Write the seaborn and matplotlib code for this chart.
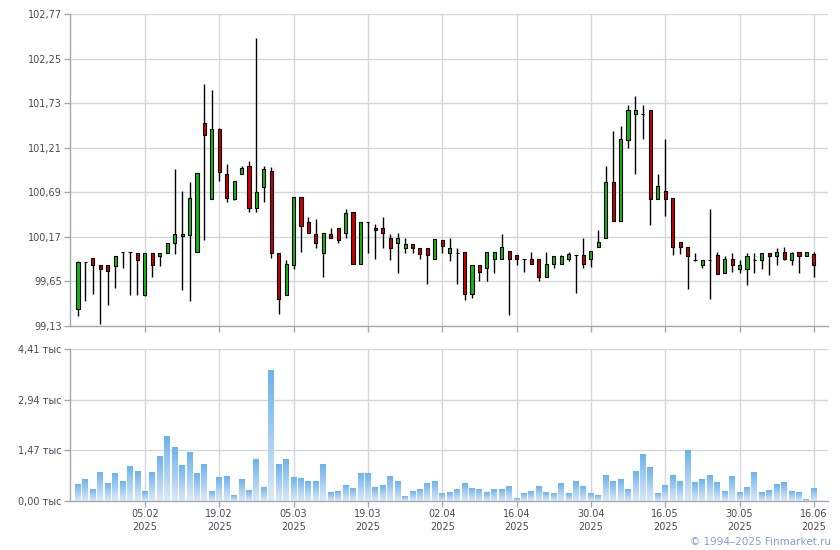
import numpy as np
import pandas as pd
import matplotlib
matplotlib.use("Agg")
import matplotlib.pyplot as plt
import seaborn as sns
from matplotlib.colors import LinearSegmentedColormap

# ---------------- data ----------------
opens = [99.33, 99.88, 99.92, 99.84, 99.84, 99.83, 99.99, 99.99, 99.98, 99.49,
         99.98, 99.95, 99.98, 100.10, 100.18, 100.19, 99.99, 101.50, 100.61, 101.43,
         100.90, 100.61, 100.90, 101.00, 100.51, 100.75, 100.94, 99.98, 99.49, 99.84,
         100.64, 100.34, 100.20, 99.98, 100.20, 100.27, 100.22, 100.46, 99.85, 100.34,
         100.27, 100.27, 100.16, 100.10, 100.04, 100.09, 100.04, 100.04, 99.91, 100.13,
         99.98, 99.98, 99.99, 99.50, 99.84, 99.81, 99.91, 99.91, 100.01, 99.96,
         99.91, 99.91, 99.91, 99.70, 99.85, 99.85, 99.91, 99.96, 99.96, 99.91,
         100.05, 100.16, 100.81, 100.36, 101.30, 101.60, 101.60, 101.65, 100.61, 100.71,
         100.62, 100.11, 100.05, 99.90, 99.84, 99.90, 99.96, 99.75, 99.91, 99.80,
         99.80, 99.90, 99.90, 99.98, 99.95, 99.99, 99.90, 99.99, 99.95, 99.97]
highs = [99.89, 99.88, 99.92, 99.84, 99.84, 99.95, 99.99, 99.99, 99.98, 99.98,
         99.98, 99.98, 100.10, 100.96, 100.71, 100.81, 100.91, 101.95, 101.88, 101.44,
         101.02, 100.82, 101.00, 101.05, 102.49, 101.00, 100.99, 99.98, 99.90, 100.64,
         100.64, 100.40, 100.38, 100.22, 100.27, 100.27, 100.50, 100.46, 100.34, 100.34,
         100.32, 100.40, 100.20, 100.22, 100.16, 100.09, 100.04, 100.04, 100.15, 100.13,
         100.16, 100.04, 99.99, 99.84, 99.84, 99.99, 99.99, 100.20, 100.01, 99.96,
         99.91, 99.99, 99.91, 99.99, 99.95, 99.96, 99.99, 99.96, 100.16, 100.01,
         100.25, 101.00, 101.41, 101.46, 101.71, 101.81, 101.71, 101.65, 100.90, 101.31,
         100.62, 100.11, 100.05, 99.98, 99.90, 100.50, 99.99, 99.95, 99.98, 99.90,
         99.98, 99.98, 99.98, 99.98, 100.04, 100.05, 99.99, 99.99, 99.99, 99.99]
lows = [99.25, 99.42, 99.50, 99.15, 99.38, 99.57, 99.81, 99.49, 99.49, 99.48,
        99.70, 99.83, 99.98, 99.97, 99.55, 99.42, 99.99, 100.13, 100.61, 100.82,
        100.58, 100.60, 100.90, 100.46, 100.46, 100.58, 99.92, 99.27, 99.49, 99.80,
        99.99, 100.22, 100.04, 99.70, 100.16, 100.10, 100.16, 99.85, 99.85, 99.98,
        99.91, 100.04, 99.90, 99.75, 99.98, 99.98, 99.91, 99.62, 99.91, 99.98,
        99.89, 99.62, 99.43, 99.46, 99.65, 99.65, 99.75, 99.91, 99.26, 99.84,
        99.76, 99.85, 99.65, 99.70, 99.81, 99.85, 99.89, 99.52, 99.81, 99.82,
        100.05, 100.16, 100.36, 100.36, 101.21, 100.90, 101.31, 100.31, 100.61, 100.41,
        99.96, 99.97, 99.56, 99.89, 99.81, 99.45, 99.74, 99.75, 99.76, 99.75,
        99.61, 99.75, 99.80, 99.73, 99.84, 99.90, 99.84, 99.75, 99.95, 99.70]
closes = [99.88, 99.88, 99.84, 99.80, 99.77, 99.95, 99.99, 99.99, 99.90, 99.98,
          99.84, 99.98, 100.10, 100.20, 100.20, 100.62, 100.91, 101.36, 101.43, 100.93,
          100.62, 100.82, 100.97, 100.51, 100.69, 100.96, 99.98, 99.44, 99.85, 100.64,
          100.30, 100.22, 100.10, 100.22, 100.16, 100.13, 100.45, 99.85, 100.34, 100.34,
          100.25, 100.22, 100.04, 100.16, 100.09, 100.04, 99.97, 99.96, 100.15, 100.06,
          100.04, 99.98, 99.50, 99.84, 99.76, 99.99, 99.99, 100.05, 99.91, 99.91,
          99.91, 99.85, 99.70, 99.85, 99.95, 99.95, 99.97, 99.96, 99.85, 100.01,
          100.11, 100.81, 100.36, 101.31, 101.65, 101.65, 101.60, 100.61, 100.76, 100.61,
          100.05, 100.05, 99.95, 99.90, 99.90, 99.90, 99.74, 99.91, 99.84, 99.84,
          99.95, 99.90, 99.98, 99.95, 99.99, 99.91, 99.98, 99.95, 99.99, 99.84]
volumes = [0.465, 0.61, 0.32, 0.814, 0.494, 0.785, 0.552, 0.989, 0.843, 0.262,
           0.814, 1.279, 1.861, 1.541, 1.018, 1.396, 0.785, 1.047, 0.262, 0.669,
           0.698, 0.174, 0.611, 0.291, 1.192, 0.378, 3.78, 1.047, 1.192, 0.669,
           0.64, 0.58, 0.552, 1.047, 0.233, 0.262, 0.436, 0.349, 0.785, 0.785,
           0.378, 0.436, 0.698, 0.552, 0.145, 0.262, 0.32, 0.494, 0.552, 0.204,
           0.233, 0.32, 0.494, 0.349, 0.32, 0.233, 0.32, 0.32, 0.407, 0.087,
           0.204, 0.262, 0.407, 0.233, 0.204, 0.494, 0.204, 0.552, 0.407, 0.204,
           0.174, 0.727, 0.552, 0.611, 0.32, 0.843, 1.337, 0.96, 0.204, 0.436,
           0.727, 0.58, 1.454, 0.523, 0.611, 0.727, 0.523, 0.262, 0.698, 0.233,
           0.378, 0.814, 0.233, 0.291, 0.465, 0.523, 0.262, 0.233, 0.058, 0.349]

tick_dates = ["05.02", "19.02", "05.03", "19.03", "02.04", "16.04",
              "30.04", "16.05", "30.05", "16.06"]
tick_year = "2025"
tick_idx = [9, 19, 29, 39, 49, 59, 69, 79, 89, 99]
price_ticks = [99.13, 99.65, 100.17, 100.69, 101.21, 101.73, 102.25, 102.77]
vol_ticks = [0.0, 1.47, 2.94, 4.41]

# ---------------- style ----------------
sns.set_style("white")
plt.rcParams['font.family'] = ['DejaVu Sans']
TXT = '#4a4a58'
GRID = '#d3d7dc'
SPINE = '#a5a9b3'
UP = '#11bb11'
DOWN = '#cc0000'

df = pd.DataFrame({"idx": np.arange(len(opens)), "open": opens, "high": highs,
                   "low": lows, "close": closes, "volume": volumes})

W, H = 840, 550
fig = plt.figure(figsize=(W / 100, H / 100), dpi=100)
ax1 = fig.add_axes([70 / W, 1 - 326 / H, (828 - 70) / W, (326 - 14) / H])
ax2 = fig.add_axes([70 / W, 1 - 501 / H, (828 - 70) / W, (501 - 349) / H])

XL = (-1.08, 100.9)


def style_axis(ax):
    for s in ['top', 'right']:
        ax.spines[s].set_visible(False)
    for s in ['left', 'bottom']:
        ax.spines[s].set_color(SPINE)
        ax.spines[s].set_linewidth(1.0)
    ax.grid(True, color=GRID, linewidth=1.0)
    ax.set_axisbelow(True)
    ax.tick_params(axis='both', which='both', length=4, width=1.0, color=SPINE,
                   labelsize=7, labelcolor=TXT, pad=2)
    ax.tick_params(axis='x', bottom=True)
    ax.tick_params(axis='y', left=True)
    ax.set_xticks(tick_idx)
    ax.set_xlim(*XL)


# ---------------- price (candles) ----------------
style_axis(ax1)
ax1.vlines(df["idx"], df["low"], df["high"], color='black', linewidth=1.0, zorder=2)
up = df["close"] >= df["open"]
body_bottom = np.minimum(df["open"], df["close"])
body_h = np.abs(df["close"] - df["open"])
ax1.bar(df["idx"], body_h, bottom=body_bottom, width=0.42,
        color=np.where(up, UP, DOWN), edgecolor='black', linewidth=0.8, zorder=3)
ax1.set_ylim(price_ticks[0], price_ticks[-1])
ax1.set_yticks(price_ticks)
ax1.set_yticklabels([f"{v:.2f}".replace('.', ',') for v in price_ticks])
ax1.set_xticklabels([])

# ---------------- volume ----------------
sns.barplot(data=df, x="idx", y="volume", ax=ax2, color='#8cc3f2', width=0.8,
            saturation=1, errorbar=None, zorder=2)
style_axis(ax2)
cmap = LinearSegmentedColormap.from_list("vol", ['#dce9f8', '#6cb3ee'])
grad = np.linspace(0, 1, 64).reshape(-1, 1)
for p in list(ax2.patches):
    x0, y0 = p.get_x(), p.get_y()
    w, h = p.get_width(), p.get_height()
    if h <= 0:
        continue
    ax2.imshow(grad, extent=[x0, x0 + w, y0, y0 + h], origin='lower',
               cmap=cmap, vmin=0, vmax=1, aspect='auto', zorder=2.5,
               interpolation='bilinear')
    p.set_visible(False)
ax2.set_xlim(*XL)
ax2.set_ylim(vol_ticks[0], vol_ticks[-1])
ax2.set_yticks(vol_ticks)
ax2.set_yticklabels([f"{v:.2f}".replace('.', ',') + " тыс" for v in vol_ticks])
ax2.set_xticks(tick_idx)
ax2.set_xticklabels([f"{d}\n{tick_year}" for d in tick_dates], linespacing=1.35)
ax2.set_xlabel("")
ax2.set_ylabel("")

fig.text(831 / W, 1 - 542 / H, "© 1994–2025 Finmarket.ru", ha='right', va='center',
         color='#7f9fdb', fontsize=7.5)

fig.savefig("out.png", dpi=100)
